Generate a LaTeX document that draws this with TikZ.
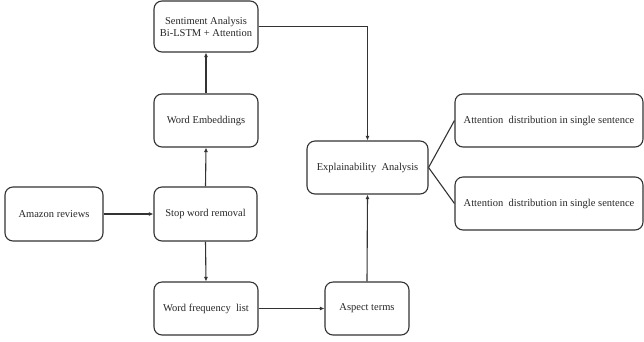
\documentclass[tikz,border=0pt]{standalone}
\usepackage{fontspec}
\setmainfont{Liberation Serif}
\usetikzlibrary{arrows.meta}
\begin{document}
\begin{tikzpicture}[x=1pt,y=-1pt,
  box/.style={draw=black!80, line width=1.1pt, rounded corners=8pt, align=center,
    font=\fontsize{10.5}{12}\selectfont, text=black!85, inner sep=0pt},
  arr/.style={draw=black!80, line width=1.1pt, -{Latex[length=4.5pt,width=4pt]}},
  ln/.style={draw=black!80, line width=1.1pt}]
\useasboundingbox (0,0) rectangle (644,341);
\node[box, minimum width=104pt, minimum height=51pt] (sent) at (206,26.5) {Sentiment Analysis\\Bi-LSTM + Attention};
\node[box, minimum width=104pt, minimum height=53pt] (emb) at (206,120.5) {Word Embeddings};
\node[box, minimum width=103pt, minimum height=54pt] (stop) at (205.5,214) {Stop word removal};
\node[box, minimum width=98pt, minimum height=54pt] (amz) at (54,214) {Amazon reviews};
\node[box, minimum width=104pt, minimum height=53pt] (freq) at (206,308.5) {Word frequency\ \ list};
\node[box, minimum width=84pt, minimum height=53pt] (asp) at (367,308.5) {Aspect terms};
\node[box, minimum width=121pt, minimum height=53pt] (expl) at (367.5,167.5) {Explainability\ \ Analysis};
\node[box, minimum width=188pt, minimum height=53pt] (att1) at (549,120.5) {Attention\ \ distribution in single sentence};
\node[box, minimum width=188pt, minimum height=53pt] (att2) at (549,203.5) {Attention\ \ distribution in single sentence};
\draw[arr] (sent.east) -| (expl.north);
\draw[arr] (emb.north) -- (sent.south);
\draw[arr] (stop.north) -- (emb.south);
\draw[arr] (amz.east) -- (stop.west);
\draw[arr] (stop.south) -- (freq.north);
\draw[arr] (freq.east) -- (asp.west);
\draw[arr] (asp.north) -- (expl.south);
\draw[ln] (expl.east) -- (att1.west);
\draw[ln] (expl.east) -- (att2.west);
\end{tikzpicture}
\end{document}
